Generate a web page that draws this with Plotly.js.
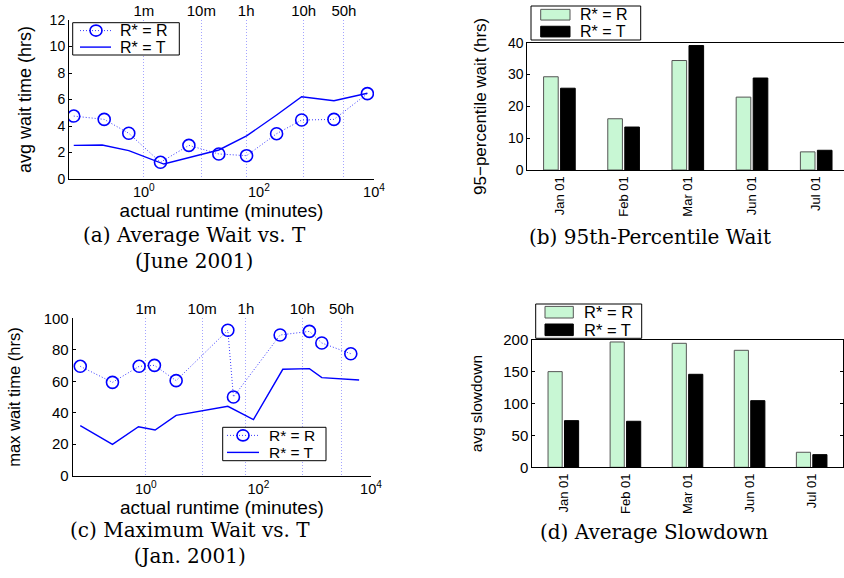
<!DOCTYPE html>
<html><head><meta charset="utf-8">
<script src="https://cdn.plot.ly/plotly-3.0.1.min.js"></script>
<style>html,body{margin:0;padding:0;background:#fff}#chart{width:844px;height:578px}</style>
</head><body><div id="chart"></div>
<script>
// ---- data ----
const runtimeMarkers = [1, 10, 60, 600, 3000];
const runtimeMarkerLabels = ['1m', '10m', '1h', '10h', '50h'];
const logTickVals = [1, 100, 10000];
const logTickText = ['10<sup>0</sup>', '10<sup>2</sup>', '10<sup>4</sup>'];

const juneRuntimeR = [0.0606, 0.205, 0.548, 1.95, 6.07, 20.1, 61.1, 203, 553, 2015, 7675];
const juneAvgWaitR = [4.75, 4.50, 3.45, 1.26, 2.54, 1.89, 1.76, 3.42, 4.45, 4.50, 6.44];
const juneRuntimeT = [0.0606, 0.189, 0.548, 2.23, 20.1, 61.1, 203, 553, 2015, 7675];
const juneAvgWaitT = [2.54, 2.57, 2.14, 1.13, 2.19, 3.25, 4.83, 6.21, 5.91, 6.47];

const janRuntimeR = [0.0683, 0.255, 0.760, 1.42, 3.45, 28.6, 36.0, 243, 805, 1337, 4375];
const janMaxWaitR = [69.5, 59.3, 69.5, 70.1, 60.4, 92.4, 50.0, 89.4, 91.7, 84.3, 77.5];
const janRuntimeT = [0.0683, 0.255, 0.739, 1.46, 3.45, 28.6, 81.5, 271, 805, 1337, 6150];
const janMaxWaitT = [31.8, 19.9, 31.1, 29.0, 38.3, 44.1, 35.6, 67.6, 68.0, 62.3, 60.8];

const months = ['Jan 01', 'Feb 01', 'Mar 01', 'Jun 01', 'Jul 01'];
const p95WaitR = [29.3, 16.1, 34.4, 22.9, 5.7];
const p95WaitT = [25.7, 13.5, 39.1, 28.9, 6.2];
const slowdownR = [150.3, 196.9, 194.8, 183.8, 23.6];
const slowdownT = [73.3, 72.3, 146.1, 104.7, 19.9];

const seriesNames = ['R* = R', 'R* = T'];
const captionA = ['(a) Average Wait vs. T', '(June 2001)'];
const captionB = ['(b) 95th-Percentile Wait'];
const captionC = ['(c) Maximum Wait vs. T', '(Jan. 2001)'];
const captionD = ['(d) Average Slowdown'];

// ---- helpers ----
const W = 844, H = 578;
const px = v => v / W, py = v => 1 - v / H;
const dx = (a, b) => [a / W, b / W];
const dy = (top, bottom) => [1 - bottom / H, 1 - top / H];
const BLUE = '#0000ff', GREEN = '#c8f7d4', DOT = '1px,2px';

const lineR = (x, y, xa, ya) => ({
  x, y, xaxis: xa, yaxis: ya, name: seriesNames[0], type: 'scatter',
  mode: 'lines+markers', line: {color: '#3a3aff', dash: DOT, width: 1},
  marker: {symbol: 'circle-open', size: 12, color: BLUE, line: {width: 1.6, color: BLUE}}
});
const lineT = (x, y, xa, ya) => ({
  x, y, xaxis: xa, yaxis: ya, name: seriesNames[1], type: 'scatter',
  mode: 'lines', line: {color: BLUE, width: 1.4}
});
const barR = (y, xa, ya) => ({
  x: months, y, xaxis: xa, yaxis: ya, name: seriesNames[0], type: 'bar',
  marker: {color: GREEN, line: {color: '#555', width: 1}}
});
const barT = (y, xa, ya) => ({
  x: months, y, xaxis: xa, yaxis: ya, name: seriesNames[1], type: 'bar',
  marker: {color: '#000', line: {color: '#000', width: 1}}
});

const data = [
  lineR(juneRuntimeR, juneAvgWaitR, 'x5', 'y'),
  lineT(juneRuntimeT, juneAvgWaitT, 'x', 'y'),
  barR(p95WaitR, 'x2', 'y2'),
  barT(p95WaitT, 'x2', 'y2'),
  lineR(janRuntimeR, janMaxWaitR, 'x6', 'y3'),
  lineT(janRuntimeT, janMaxWaitT, 'x3', 'y3'),
  barR(slowdownR, 'x4', 'y4'),
  barT(slowdownT, 'x4', 'y4')
];

const base = {showline: true, linecolor: '#000', linewidth: 1, ticks: 'inside', ticklen: 3,
  tickcolor: '#000', zeroline: false, showgrid: false, tickfont: {size: 14, color: '#000'}, fixedrange: true};

const logX = (domain, anchor, titleSize) => Object.assign({}, base, {
  domain, anchor, type: 'log', range: [-1.3, 4], tickvals: logTickVals, ticktext: logTickText,
  ticks: '', tickfont: {size: 14.5, color: '#000'},
  title: {text: 'actual runtime (minutes)', font: {size: titleSize, color: '#000'}, standoff: 0}
});
const topX = (over, anchor) => ({
  overlaying: over, anchor, side: 'top', type: 'log', range: [-1.3, 4],
  tickvals: runtimeMarkers, ticktext: runtimeMarkerLabels, ticks: '', showline: false,
  showgrid: true, gridcolor: '#a4a4ff', griddash: DOT, gridwidth: 1, zeroline: false,
  tickfont: {size: 15, color: '#000'}, fixedrange: true
});
const catX = (domain, anchor, range) => Object.assign({}, base, {
  domain, anchor, range, ticks: '', mirror: true, tickangle: -90, tickfont: {size: 13, color: '#000'}
});

// ---- legends (boxes, swatches, labels) ----
const shapes = [], annotations = [];
const rectPx = (x0, y0, x1, y1, fill, lineColor) => ({type: 'rect', xref: 'paper', yref: 'paper',
  x0: px(x0), x1: px(x1), y0: py(y1), y1: py(y0), fillcolor: fill,
  line: {color: lineColor, width: 1}, layer: 'above'});
const label = (text, x, y, size) => ({text, xref: 'paper', yref: 'paper', x: px(x), y: py(y),
  xanchor: 'left', yanchor: 'middle', showarrow: false,
  font: {size, color: '#000', family: 'Liberation Sans, Arial, sans-serif'}});

function lineLegend(spec) {
  const [bx0, by0, bx1, by1] = spec.box;
  shapes.push(rectPx(bx0, by0, bx1, by1, '#fff', '#000'));
  const [r1, r2] = spec.rows, [s0, s1] = spec.sample;
  shapes.push({type: 'line', xref: 'paper', yref: 'paper', x0: px(s0), x1: px(s1), y0: py(r1), y1: py(r1),
    line: {color: '#3a3aff', width: 1, dash: DOT}, layer: 'above'});
  shapes.push({type: 'circle', xref: 'paper', yref: 'paper', x0: px(spec.mark - 6), x1: px(spec.mark + 6),
    y0: py(r1 + 5.5), y1: py(r1 - 5.5), line: {color: BLUE, width: 1.6}, fillcolor: 'rgba(0,0,0,0)', layer: 'above'});
  shapes.push({type: 'line', xref: 'paper', yref: 'paper', x0: px(s0), x1: px(s1), y0: py(r2), y1: py(r2),
    line: {color: BLUE, width: 1.4}, layer: 'above'});
  annotations.push(label(seriesNames[0], spec.text, r1, spec.size));
  annotations.push(label(seriesNames[1], spec.text, r2, spec.size));
}
function barLegend(spec) {
  const [bx0, by0, bx1, by1] = spec.box;
  shapes.push(rectPx(bx0, by0, bx1, by1, '#fff', '#000'));
  const [r1, r2] = spec.rows, [s0, s1] = spec.swatch, h = spec.sh / 2;
  shapes.push(rectPx(s0, r1 - h, s1, r1 + h, GREEN, '#555'));
  shapes.push(rectPx(s0, r2 - h, s1, r2 + h, '#000', '#000'));
  annotations.push(label(seriesNames[0], spec.text, r1, spec.size));
  annotations.push(label(seriesNames[1], spec.text, r2, spec.size));
}
lineLegend({box: [72.7, 22.7, 179.3, 55], rows: [30.6, 47.1], sample: [80, 111], mark: 96, text: 118, size: 16});
lineLegend({box: [222.7, 427.3, 326, 460.7], rows: [435.4, 452.4], sample: [227, 259], mark: 243, text: 267, size: 15.5});
barLegend({box: [531, 6, 640.7, 40], rows: [14.7, 31.6], swatch: [540.7, 570], sh: 10.7, text: 578, size: 16});
barLegend({box: [535.7, 304, 641.7, 338.3], rows: [312.2, 329.8], swatch: [545, 573.3], sh: 11.6, text: 582, size: 16.5});

// ---- captions ----
const capFont = {family: 'DejaVu Serif, Liberation Serif, serif', size: 20, color: '#000'};
const cap = (lines, xpx, ypx) => ({text: lines.join('<br>'), xref: 'paper', yref: 'paper', x: px(xpx), y: py(ypx),
  xanchor: 'center', yanchor: 'middle', align: 'center', showarrow: false, font: capFont});
annotations.push(cap(captionA, 194, 248), cap(captionB, 650, 237),
                 cap(captionC, 190, 543), cap(captionD, 654, 532));

const layout = {
  width: W, height: H, margin: {l: 0, r: 0, t: 0, b: 0},
  paper_bgcolor: '#fff', plot_bgcolor: 'rgba(0,0,0,0)',
  font: {family: 'Liberation Sans, Arial, sans-serif', color: '#000'},
  barmode: 'group', bargap: 0.47, bargroupgap: 0.14, showlegend: false,
  xaxis: logX(dx(69, 374), 'y', 19),
  yaxis: Object.assign({}, base, {domain: dy(20, 179), anchor: 'x', range: [0, 12], dtick: 2,
    title: {text: 'avg wait time (hrs)', font: {size: 18}, standoff: 13}}),
  xaxis5: topX('x', 'y'),
  xaxis2: catX(dx(527.3, 844), 'y2', [-0.5, 4.433]),
  yaxis2: Object.assign({}, base, {domain: dy(42.7, 170), anchor: 'x2', range: [0, 40], dtick: 10,
    title: {text: '95\u2212percentile wait (hrs)', font: {size: 17}, standoff: 16}}),
  xaxis3: logX(dx(72.7, 371), 'y3', 19),
  yaxis3: Object.assign({}, base, {domain: dy(318.3, 475.7), anchor: 'x3', range: [0, 100], dtick: 20,
    tickfont: {size: 15, color: '#000'},
    title: {text: 'max wait time (hrs)', font: {size: 16.5}, standoff: 18}}),
  xaxis6: topX('x3', 'y3'),
  xaxis4: catX(dx(532.3, 842.7), 'y4', [-0.5, 4.5]),
  yaxis4: Object.assign({}, base, {domain: dy(340, 467.3), anchor: 'x4', range: [0, 200], dtick: 50,
    mirror: 'ticks', tickfont: {size: 15, color: '#000'},
    title: {text: 'avg slowdown', font: {size: 15.5}, standoff: 16}}),
  shapes, annotations
};

Plotly.newPlot('chart', data, layout, {staticPlot: true, displayModeBar: false});
</script></body></html>
